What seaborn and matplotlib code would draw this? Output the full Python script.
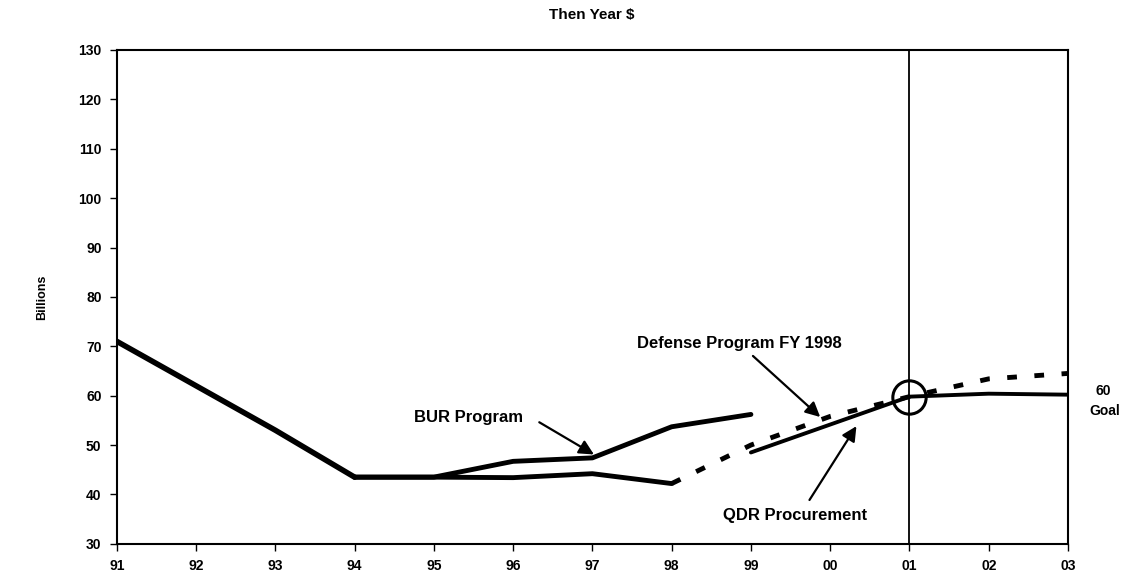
import numpy as np
import pandas as pd
import matplotlib
matplotlib.use("Agg")
import matplotlib.pyplot as plt
import seaborn as sns

# fiscal years shown on the axis
years = ["91", "92", "93", "94", "95", "96", "97", "98", "99", "00", "01", "02", "03"]
yticks = [30, 40, 50, 60, 70, 80, 90, 100, 110, 120, 130]

# common history 91-94
hist_x = ["91", "92", "93", "94"]
hist_y = [71, 62, 53, 43.5]

# BUR Program
bur_x = ["94", "95", "96", "97", "98", "99"]
bur_y = [43.5, 43.5, 46.7, 47.4, 53.7, 56.2]

# Defense Program FY 1998 (solid part, then dashed)
dp_x = ["94", "95", "96", "97", "98"]
dp_y = [43.5, 43.5, 43.4, 44.2, 42.2]
dpd_x = ["98", "99", "00", "01", "02", "03"]
dpd_y = [42.2, 50, 55.8, 59.8, 63.4, 64.5]

# QDR Procurement
qdr_x = ["99", "01", "02", "03"]
qdr_y = [48.5, 59.8, 60.4, 60.2]

goal_x = ["01"]
goal_y = [59.8]

sns.set_theme(style="white")
plt.rcParams["font.family"] = ["Liberation Sans", "DejaVu Sans"]
plt.rcParams["font.weight"] = "bold"
plt.rcParams["text.color"] = "black"
plt.rcParams["axes.labelcolor"] = "black"
plt.rcParams["xtick.color"] = "black"
plt.rcParams["ytick.color"] = "black"

pos = {y: i for i, y in enumerate(years)}

def frame(xs, ys):
    return pd.DataFrame({"x": [pos[v] for v in xs], "y": ys})

fig = plt.figure(figsize=(11.23, 5.81), dpi=100)
ax = fig.add_axes([0.104, 0.064, 0.847, 0.85])

sns.lineplot(data=frame(hist_x, hist_y), x="x", y="y", ax=ax, color="black", lw=4)
sns.lineplot(data=frame(bur_x, bur_y), x="x", y="y", ax=ax, color="black", lw=3.5)
sns.lineplot(data=frame(dp_x, dp_y), x="x", y="y", ax=ax, color="black", lw=3.5)
sns.lineplot(data=frame(dpd_x, dpd_y), x="x", y="y", ax=ax, color="black", lw=3.5)
ax.lines[-1].set_dashes([2, 3.6])
sns.lineplot(data=frame(qdr_x, qdr_y), x="x", y="y", ax=ax, color="black", lw=2.8)
ax.plot([pos[v] for v in goal_x], goal_y, marker="o", ms=24, mfc="none",
        mec="black", mew=2.2, ls="none")
ax.axvline(pos["01"], color="black", lw=1.3)

ax.set_xlim(0, 12)
ax.set_ylim(30, 130)
ax.set_xticks(range(len(years)))
ax.set_xticklabels(years, fontsize=10, fontweight="bold")
ax.set_yticks(yticks)
ax.set_yticklabels([str(v) for v in yticks], fontsize=10, fontweight="bold")
ax.tick_params(axis="both", direction="out", length=5, width=1,
               bottom=True, left=True, pad=6)
ax.set_xlabel("")
ax.set_ylabel("Billions", fontsize=9, fontweight="bold", labelpad=22)
for s in ax.spines.values():
    s.set_color("black")
    s.set_linewidth(1.5)

fig.text(0.527, 0.975, "Then Year $", ha="center", va="center",
         fontsize=11, fontweight="bold")

arrow = dict(arrowstyle="-|>", color="black", lw=1.6, mutation_scale=22)
ax.annotate("Defense Program FY 1998", xy=(8.9, 55.3), xytext=(7.85, 70.6),
            ha="center", va="center", fontsize=12, fontweight="bold", arrowprops=arrow)
ax.annotate("", xy=(6.05, 47.8), xytext=(5.3, 54.9), arrowprops=arrow)
ax.text(5.12, 55.5, "BUR Program", ha="right", va="center", fontsize=12, fontweight="bold")
ax.annotate("", xy=(9.35, 54.3), xytext=(8.72, 38.4), arrowprops=arrow)
ax.text(8.56, 35.7, "QDR Procurement", ha="center", va="center", fontsize=12, fontweight="bold")
ax.text(12.45, 61.0, "60", ha="center", va="center", fontsize=10, fontweight="bold")
ax.text(12.47, 56.8, "Goal", ha="center", va="center", fontsize=10, fontweight="bold")

fig.savefig("out.png", dpi=100)
